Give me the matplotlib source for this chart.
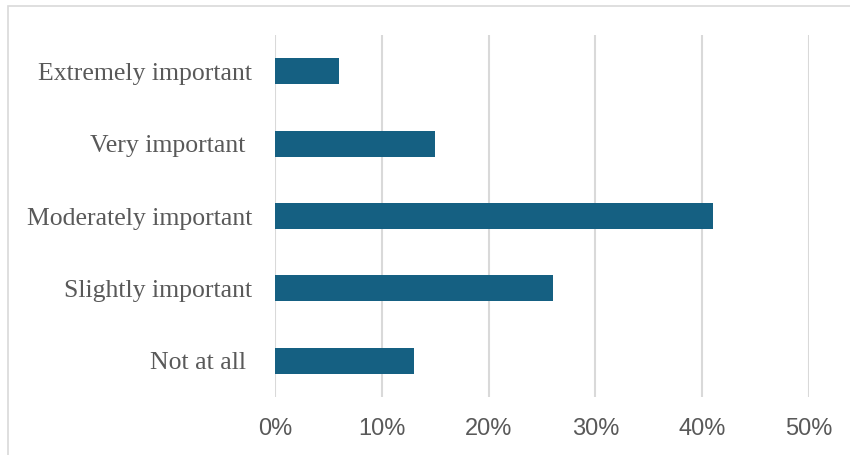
import matplotlib.pyplot as plt
from matplotlib.patches import Rectangle
import numpy as np

categories = ['Extremely important', 'Very important ', 'Moderately important',
              'Slightly important', 'Not at all ']
values = [6, 15, 41, 26, 13]   # percent
xticks = [0, 10, 20, 30, 40, 50]
xticklabels = ['0%', '10%', '20%', '30%', '40%', '50%']

fig = plt.figure(figsize=(8.5, 4.55), dpi=100)
ax = fig.add_axes([275 / 850, 1 - 397 / 455, (809 - 275) / 850, (397 - 35) / 455])

# outer chart border (runs off the right and bottom edge)
fig.patches.append(Rectangle((8 / 850, -0.1), 1.2, 1 - 6 / 455 + 0.1, transform=fig.transFigure,
                             facecolor='none', edgecolor='#D9D9D9', linewidth=1.2, zorder=0))

y = np.arange(len(categories))
ax.barh(y, values, height=0.36, color='#156082', zorder=3)

ax.set_xlim(0, 50)
ax.set_ylim(len(categories) - 0.5, -0.5)
ax.set_xticks(xticks)
ax.set_xticklabels(xticklabels, fontsize=17, family='Liberation Sans', color='#595959')
ax.set_yticks(y)
ax.set_yticklabels(categories, fontsize=18.5, family='Liberation Serif', color='#595959')
ax.tick_params(axis='x', length=0, pad=15)
ax.tick_params(axis='y', length=0, pad=16.5)

ax.grid(axis='x', color='#D9D9D9', linewidth=1.5, zorder=0)
ax.set_axisbelow(True)
for s in ['top', 'right', 'bottom', 'left']:
    ax.spines[s].set_visible(False)

plt.savefig('out.png', dpi=100)
